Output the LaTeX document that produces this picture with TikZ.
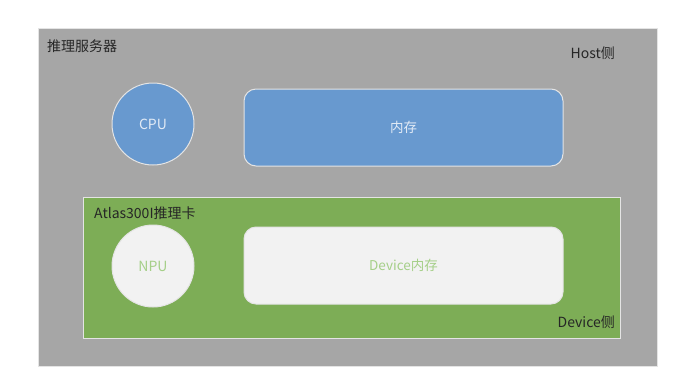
\documentclass[tikz,border=0pt]{standalone}
\usepackage{fontspec}
\setmainfont{Noto Sans CJK SC}
\definecolor{bgGray}{HTML}{A6A6A6}
\definecolor{hostBlue}{HTML}{6899CF}
\definecolor{devGreen}{HTML}{7DAD56}
\definecolor{paleWhite}{HTML}{F2F2F2}
\definecolor{lineWhite}{HTML}{E4E4E4}
\definecolor{txtGreen}{HTML}{A5CF88}
\definecolor{txtBlue}{HTML}{E2EBF6}
\definecolor{txtDark}{HTML}{262626}
\begin{document}
\begin{tikzpicture}[x=1pt,y=-1pt,
  panel/.style={draw=lineWhite,line width=0.8pt},
  chip/.style={circle,draw=lineWhite,line width=1pt,minimum size=82pt,inner sep=0pt,font=\fontsize{14}{16}\selectfont},
  membox/.style={rounded corners=12pt,draw=lineWhite,line width=1pt,minimum width=319pt,minimum height=77pt,inner sep=0pt,font=\fontsize{13.5}{16}\selectfont},
  caption/.style={font=\fontsize{14}{16}\selectfont,text=txtDark,inner sep=0pt}]
\useasboundingbox (0,0) rectangle (692,378);
\fill[white] (0,0) rectangle (692,378);
\draw[panel,fill=bgGray] (38,28) rectangle (657,366);
\node[caption,anchor=west] (server) at (47,46) {推理服务器};
\node[caption,anchor=east] (host) at (615,53) {Host侧};
\node[chip,fill=hostBlue,text=txtBlue,minimum width=82pt,minimum height=80pt] (cpu) at (153,124) {CPU};
\node[membox,fill=hostBlue,text=txtBlue] (mem) at (403.5,127.5) {内存};
\draw[panel,fill=devGreen] (83,197) rectangle (620,338);
\node[caption,anchor=west] (card) at (94,213) {Atlas300I推理卡};
\node[caption,anchor=east] (devside) at (615,322) {Device侧};
\node[chip,fill=paleWhite,text=txtGreen] (npu) at (153,266) {NPU};
\node[membox,fill=paleWhite,text=txtGreen] (devmem) at (403.5,265.5) {Device内存};
\end{tikzpicture}
\end{document}
